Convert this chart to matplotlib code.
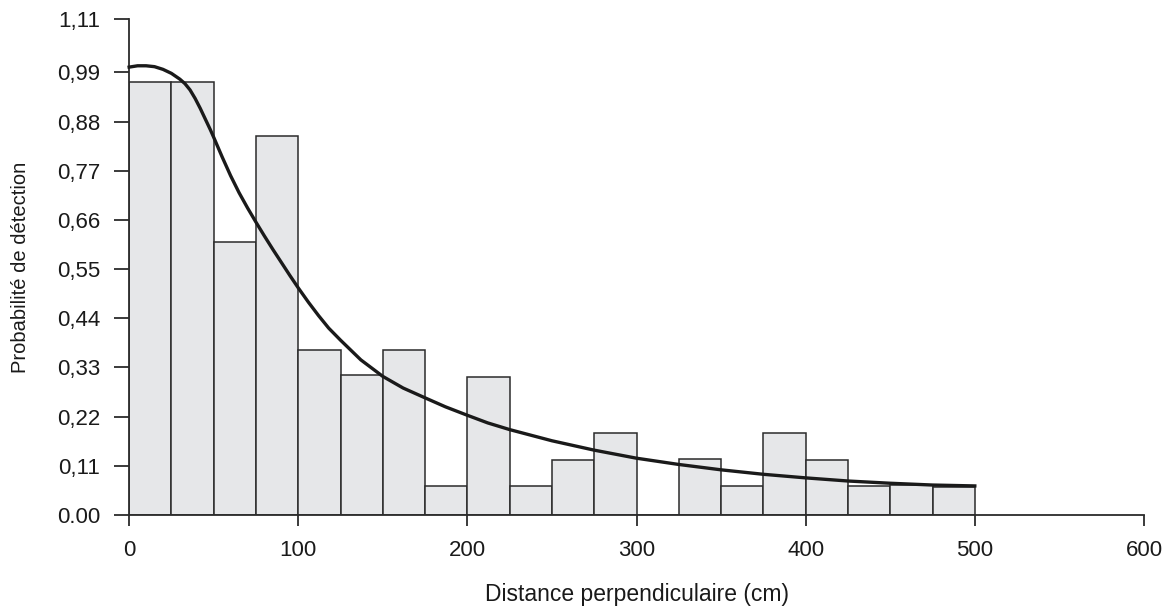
import numpy as np
import matplotlib
matplotlib.use("Agg")
import matplotlib.pyplot as plt

# histogram bins (cm) and heights
bin_edges = [0, 25, 50, 75, 100, 125, 150, 175, 200, 225, 250,
             275, 300, 325, 350, 375, 400, 425, 450, 475, 500]
bar_heights = [0.968, 0.968, 0.610, 0.849, 0.370, 0.313, 0.370, 0.064,
               0.308, 0.064, 0.122, 0.184, 0.0, 0.125, 0.064, 0.184,
               0.122, 0.064, 0.067, 0.062]

# fitted detection curve
curve_x = [0, 5, 10, 15, 20, 25, 30, 33, 36, 39, 42, 45, 48, 50, 55, 60,
           65, 70, 75, 80, 85, 90, 95, 100, 106, 112, 118, 125, 137, 150,
           162, 175, 187, 200, 212, 225, 250, 275, 300, 325, 350, 375, 400,
           425, 450, 475, 500]
curve_y = [1.002, 1.005, 1.005, 1.003, 0.997, 0.988, 0.975, 0.965, 0.951,
           0.932, 0.910, 0.886, 0.862, 0.845, 0.801, 0.759, 0.721, 0.687,
           0.655, 0.624, 0.594, 0.565, 0.536, 0.508, 0.476, 0.446, 0.418,
           0.391, 0.347, 0.310, 0.284, 0.262, 0.242, 0.223, 0.206, 0.191,
           0.166, 0.145, 0.127, 0.113, 0.101, 0.091, 0.083, 0.076, 0.071,
           0.067, 0.065]

y_ticks = [0.0, 0.11, 0.22, 0.33, 0.44, 0.55, 0.66, 0.77, 0.88, 0.99, 1.11]
y_labels = ["0.00", "0,11", "0,22", "0,33", "0,44", "0,55", "0,66",
            "0,77", "0,88", "0,99", "1,11"]
x_ticks = [0, 100, 200, 300, 400, 500, 600]

plt.rcParams['font.family'] = ['Liberation Sans', 'DejaVu Sans']

fig = plt.figure(figsize=(11.74, 6.08), dpi=100)
ax = fig.add_axes([0.110, 0.153, 0.8644, 0.816])

edges = np.array(bin_edges)
ax.bar(edges[:-1], bar_heights, width=np.diff(edges), align='edge',
       color='#e6e7e9', edgecolor='#2b2b2b', linewidth=1.1, zorder=2)
ax.plot(curve_x, curve_y, color='#1a1a1a', linewidth=2.4, zorder=3,
        clip_on=False, solid_joinstyle='round')

ax.set_xlim(0, 600)
ax.set_ylim(0, 1.11)
ax.set_xticks(x_ticks)
ax.set_yticks(y_ticks)
ax.set_yticklabels(y_labels)

for s in ['top', 'right']:
    ax.spines[s].set_visible(False)
for s in ['left', 'bottom']:
    ax.spines[s].set_linewidth(1.3)
    ax.spines[s].set_color('#2b2b2b')

ax.tick_params(axis='y', direction='out', length=11, width=1.3,
               pad=10, labelsize=16, colors='#2b2b2b', labelcolor='#1a1a1a')
ax.tick_params(axis='x', direction='out', length=8, width=1.3,
               pad=10, labelsize=16, colors='#2b2b2b', labelcolor='#1a1a1a')

ax.set_xlabel("Distance perpendiculaire (cm)", fontsize=16.5, labelpad=16,
              color='#1a1a1a')
ax.set_ylabel("Probabilité de détection", fontsize=14.5, labelpad=19,
              color='#1a1a1a')

fig.savefig("out.png", dpi=100)
